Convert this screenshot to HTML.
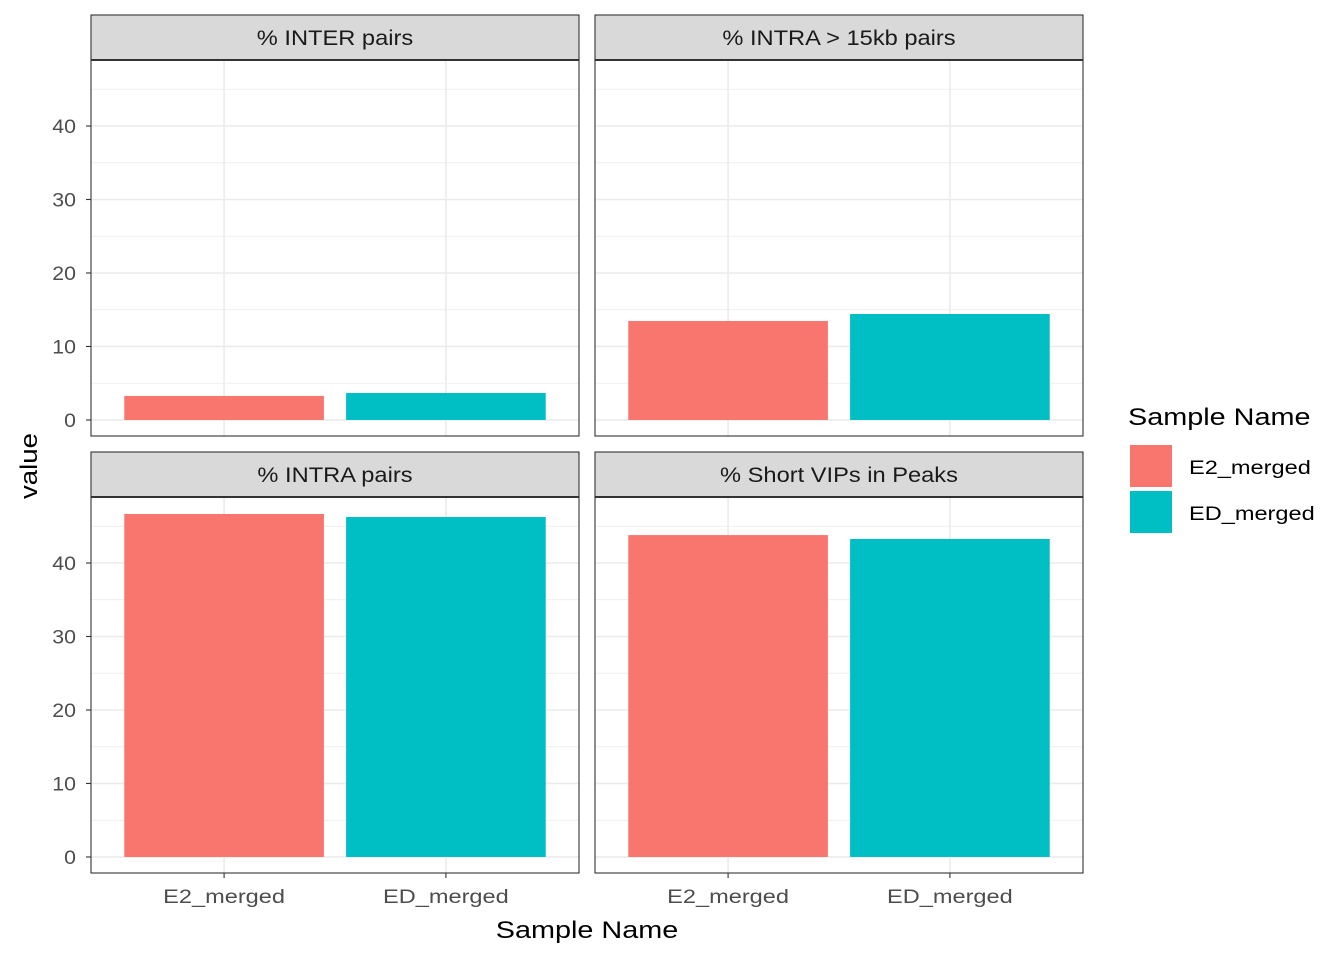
<!DOCTYPE html>
<html><head><meta charset="utf-8"><style>
body{margin:0;background:#fff;}
svg{display:block;font-family:"Liberation Sans",sans-serif;}
</style></head><body>
<svg id="c" width="1344" height="960" xmlns="http://www.w3.org/2000/svg"></svg>
<script>
const categories = ["E2_merged","ED_merged"];
const panelTitles = ["% INTER pairs","% INTRA > 15kb pairs","% INTRA pairs","% Short VIPs in Peaks"];
const e2Values = [3.27, 13.47, 46.67, 43.8];
const edValues = [3.67, 14.42, 46.26, 43.27];
const yTicks = [0,10,20,30,40];
const colors = ["#F8766D","#00BFC4"];
const NS="http://www.w3.org/2000/svg";
const svg=document.getElementById('c');
function el(t,a,p){const e=document.createElementNS(NS,t);for(const k in a)e.setAttribute(k,a[k]);(p||svg).appendChild(e);return e;}
function fit(t,scale){const w=t.getComputedTextLength();t.setAttribute('textLength',(w*scale).toFixed(1));t.setAttribute('lengthAdjust','spacingAndGlyphs');}
const panels=[{x:91,y:60},{x:595,y:60},{x:91,y:497},{x:595,y:497}];
const pw=488,ph=376,ymin=-2.18,ymax=48.98;
panels.forEach((p,i)=>{
  const g=el('g',{});
  
  
  const y=v=>p.y+ph-(v-ymin)/(ymax-ymin)*ph;
  const xs=v=>p.x+(v-0.4)/2.2*pw;
  el('rect',{x:p.x,y:p.y,width:pw,height:ph,fill:'#fff'},g);
  for(let v=5;v<ymax;v+=10) el('line',{x1:p.x,x2:p.x+pw,y1:y(v),y2:y(v),stroke:'#ebebeb','stroke-width':0.8},g);
  yTicks.forEach(v=>el('line',{x1:p.x,x2:p.x+pw,y1:y(v),y2:y(v),stroke:'#ebebeb','stroke-width':1.6},g));
  categories.forEach((c,j)=>el('line',{x1:xs(j+1),x2:xs(j+1),y1:p.y,y2:p.y+ph,stroke:'#ebebeb','stroke-width':1.6},g));
  [e2Values[i],edValues[i]].forEach((v,j)=>{
    const r=el('rect',{x:xs(j+1)-0.45*pw/2.2,width:0.9*pw/2.2,y:y(v),height:y(0)-y(v),fill:colors[j]},g);
    
    
  });
  el('rect',{x:p.x,y:p.y,width:pw,height:ph,fill:'none',stroke:'#333','stroke-width':1.1},g);
  const s=el('rect',{x:p.x,y:p.y-45,width:pw,height:45,fill:'#d9d9d9',stroke:'#333','stroke-width':1.1},g);
  
  
  el('line',{x1:p.x,x2:p.x+pw,y1:p.y,y2:p.y,stroke:'#333','stroke-width':2},g);
  const st=el('text',{x:p.x+pw/2,y:p.y-15,'text-anchor':'middle','font-size':'21.5',fill:'#1a1a1a'},g);
  st.textContent=panelTitles[i];
  
  
  fit(st,1.1);
  if(p.x<300){
    yTicks.forEach(v=>{
      el('line',{x1:p.x-5,x2:p.x,y1:y(v),y2:y(v),stroke:'#333','stroke-width':1.1},g);
      const t=el('text',{x:p.x-15,y:y(v)+7,'text-anchor':'end','font-size':'19',fill:'#4d4d4d'},g);
      t.textContent=v;
      
      
      fit(t,1.12);
    });
  }
  if(p.y>300){
    categories.forEach((c,j)=>{
      el('line',{x1:xs(j+1),x2:xs(j+1),y1:p.y+ph,y2:p.y+ph+5,stroke:'#333','stroke-width':1.1},g);
      const t=el('text',{x:xs(j+1),y:p.y+ph+30,'text-anchor':'middle','font-size':'19',fill:'#4d4d4d'},g);
      t.textContent=c;
      
      
      fit(t,1.24);
    });
  }
});
const xt=el('text',{x:587,y:938,'text-anchor':'middle','font-size':'24',fill:'#000'});
xt.textContent='Sample Name';


fit(xt,1.2);
const yt=el('text',{x:0,y:0,transform:'translate(37,466) rotate(-90)','text-anchor':'middle','font-size':'24',fill:'#000'});
yt.textContent='value';


fit(yt,1.15);
const lt=el('text',{x:1128,y:425,'font-size':'24',fill:'#000'});
lt.textContent='Sample Name';


fit(lt,1.2);
categories.forEach((c,j)=>{
  const k=el('rect',{x:1130,y:445+j*46,width:42,height:42,fill:colors[j]});
  
  
  const t=el('text',{x:1189,y:474+j*46,'font-size':'19',fill:'#000'});
  t.textContent=c;
  
  
  fit(t,1.24);
});
</script>
</body></html>
